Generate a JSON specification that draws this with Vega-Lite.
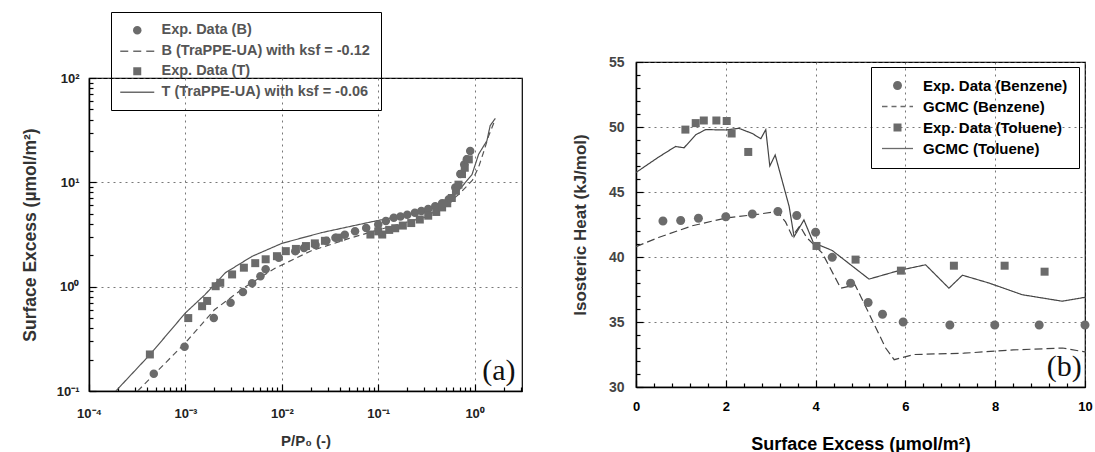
{
  "$schema": "https://vega.github.io/schema/vega-lite/v6.json",
  "padding": {"left": 20, "top": 11, "right": 0, "bottom": 0},
  "config": {
    "font": "Liberation Sans",
    "view": {"stroke": "#000", "strokeWidth": 1.2},
    "axis": {
      "labelFont": "Liberation Sans", "labelFontWeight": "bold", "labelFontSize": 13, "labelColor": "#222",
      "titleFont": "Liberation Sans", "titleFontWeight": "bold", "titleFontSize": 15, "titleColor": "#333",
      "domainColor": "#000", "domainWidth": 1.5, "tickColor": "#000", "tickWidth": 1.2,
      "gridColor": "#555", "gridDash": [2, 4], "gridWidth": 0.8, "labelOverlap": false, "labelFlush": false
    }
  },
  "resolve": {
    "scale": {"x": "independent", "y": "independent", "shape": "independent", "strokeDash": "independent"},
    "legend": {"shape": "independent", "strokeDash": "independent"}
  },
  "datasets": {
    "leftPts": [
      {"x": 0.00047, "y": 0.146, "series": "Exp. Data (B)"},
      {"x": 0.00098, "y": 0.265, "series": "Exp. Data (B)"},
      {"x": 0.00197, "y": 0.5, "series": "Exp. Data (B)"},
      {"x": 0.00294, "y": 0.7, "series": "Exp. Data (B)"},
      {"x": 0.00395, "y": 0.89, "series": "Exp. Data (B)"},
      {"x": 0.00492, "y": 1.08, "series": "Exp. Data (B)"},
      {"x": 0.006, "y": 1.26, "series": "Exp. Data (B)"},
      {"x": 0.0068, "y": 1.47, "series": "Exp. Data (B)"},
      {"x": 0.0093, "y": 1.89, "series": "Exp. Data (B)"},
      {"x": 0.0138, "y": 2.19, "series": "Exp. Data (B)"},
      {"x": 0.017, "y": 2.35, "series": "Exp. Data (B)"},
      {"x": 0.0224, "y": 2.51, "series": "Exp. Data (B)"},
      {"x": 0.029, "y": 2.75, "series": "Exp. Data (B)"},
      {"x": 0.036, "y": 2.95, "series": "Exp. Data (B)"},
      {"x": 0.045, "y": 3.15, "series": "Exp. Data (B)"},
      {"x": 0.0575, "y": 3.39, "series": "Exp. Data (B)"},
      {"x": 0.075, "y": 3.65, "series": "Exp. Data (B)"},
      {"x": 0.1, "y": 3.95, "series": "Exp. Data (B)"},
      {"x": 0.12, "y": 4.25, "series": "Exp. Data (B)"},
      {"x": 0.145, "y": 4.57, "series": "Exp. Data (B)"},
      {"x": 0.17, "y": 4.7, "series": "Exp. Data (B)"},
      {"x": 0.2, "y": 4.9, "series": "Exp. Data (B)"},
      {"x": 0.24, "y": 5.1, "series": "Exp. Data (B)"},
      {"x": 0.28, "y": 5.3, "series": "Exp. Data (B)"},
      {"x": 0.33, "y": 5.55, "series": "Exp. Data (B)"},
      {"x": 0.39, "y": 5.9, "series": "Exp. Data (B)"},
      {"x": 0.46, "y": 6.3, "series": "Exp. Data (B)"},
      {"x": 0.54, "y": 6.9, "series": "Exp. Data (B)"},
      {"x": 0.63, "y": 8.9, "series": "Exp. Data (B)"},
      {"x": 0.71, "y": 12.0, "series": "Exp. Data (B)"},
      {"x": 0.78, "y": 14.8, "series": "Exp. Data (B)"},
      {"x": 0.83, "y": 16.6, "series": "Exp. Data (B)"},
      {"x": 0.9, "y": 20, "series": "Exp. Data (B)"},
      {"x": 0.000428, "y": 0.224, "series": "Exp. Data (T)"},
      {"x": 0.00107, "y": 0.5, "series": "Exp. Data (T)"},
      {"x": 0.00149, "y": 0.65, "series": "Exp. Data (T)"},
      {"x": 0.00168, "y": 0.73, "series": "Exp. Data (T)"},
      {"x": 0.00206, "y": 1.01, "series": "Exp. Data (T)"},
      {"x": 0.0023, "y": 1.09, "series": "Exp. Data (T)"},
      {"x": 0.00305, "y": 1.31, "series": "Exp. Data (T)"},
      {"x": 0.00404, "y": 1.52, "series": "Exp. Data (T)"},
      {"x": 0.0053, "y": 1.68, "series": "Exp. Data (T)"},
      {"x": 0.0068, "y": 1.83, "series": "Exp. Data (T)"},
      {"x": 0.0089, "y": 1.96, "series": "Exp. Data (T)"},
      {"x": 0.011, "y": 2.19, "series": "Exp. Data (T)"},
      {"x": 0.014, "y": 2.3, "series": "Exp. Data (T)"},
      {"x": 0.0178, "y": 2.45, "series": "Exp. Data (T)"},
      {"x": 0.022, "y": 2.6, "series": "Exp. Data (T)"},
      {"x": 0.028, "y": 2.75, "series": "Exp. Data (T)"},
      {"x": 0.039, "y": 2.95, "series": "Exp. Data (T)"},
      {"x": 0.083, "y": 3.16, "series": "Exp. Data (T)"},
      {"x": 0.11, "y": 3.16, "series": "Exp. Data (T)"},
      {"x": 0.1, "y": 3.39, "series": "Exp. Data (T)"},
      {"x": 0.13, "y": 3.5, "series": "Exp. Data (T)"},
      {"x": 0.15, "y": 3.63, "series": "Exp. Data (T)"},
      {"x": 0.18, "y": 3.85, "series": "Exp. Data (T)"},
      {"x": 0.22, "y": 4.07, "series": "Exp. Data (T)"},
      {"x": 0.27, "y": 4.4, "series": "Exp. Data (T)"},
      {"x": 0.33, "y": 4.79, "series": "Exp. Data (T)"},
      {"x": 0.4, "y": 5.2, "series": "Exp. Data (T)"},
      {"x": 0.46, "y": 5.75, "series": "Exp. Data (T)"},
      {"x": 0.52, "y": 6.3, "series": "Exp. Data (T)"},
      {"x": 0.58, "y": 7.08, "series": "Exp. Data (T)"},
      {"x": 0.64, "y": 8.3, "series": "Exp. Data (T)"},
      {"x": 0.68, "y": 9.5, "series": "Exp. Data (T)"},
      {"x": 0.74, "y": 12, "series": "Exp. Data (T)"},
      {"x": 0.79, "y": 13.8, "series": "Exp. Data (T)"},
      {"x": 0.87, "y": 16.6, "series": "Exp. Data (T)"}
    ],
    "leftLines": [
      {"x": 0.00032, "y": 0.1, "series": "B (TraPPE-UA) with ksf = -0.12"},
      {"x": 0.001, "y": 0.29, "series": "B (TraPPE-UA) with ksf = -0.12"},
      {"x": 0.002, "y": 0.6, "series": "B (TraPPE-UA) with ksf = -0.12"},
      {"x": 0.0042, "y": 1.0, "series": "B (TraPPE-UA) with ksf = -0.12"},
      {"x": 0.0085, "y": 1.5, "series": "B (TraPPE-UA) with ksf = -0.12"},
      {"x": 0.02, "y": 2.2, "series": "B (TraPPE-UA) with ksf = -0.12"},
      {"x": 0.05, "y": 2.9, "series": "B (TraPPE-UA) with ksf = -0.12"},
      {"x": 0.1, "y": 3.5, "series": "B (TraPPE-UA) with ksf = -0.12"},
      {"x": 0.3, "y": 4.6, "series": "B (TraPPE-UA) with ksf = -0.12"},
      {"x": 0.5, "y": 6.0, "series": "B (TraPPE-UA) with ksf = -0.12"},
      {"x": 0.7, "y": 7.8, "series": "B (TraPPE-UA) with ksf = -0.12"},
      {"x": 0.95, "y": 10.5, "series": "B (TraPPE-UA) with ksf = -0.12"},
      {"x": 1.1, "y": 14, "series": "B (TraPPE-UA) with ksf = -0.12"},
      {"x": 1.25, "y": 20, "series": "B (TraPPE-UA) with ksf = -0.12"},
      {"x": 1.4, "y": 28, "series": "B (TraPPE-UA) with ksf = -0.12"},
      {"x": 1.58, "y": 37, "series": "B (TraPPE-UA) with ksf = -0.12"},
      {"x": 0.00019, "y": 0.1, "series": "T (TraPPE-UA) with ksf = -0.06"},
      {"x": 0.00043, "y": 0.224, "series": "T (TraPPE-UA) with ksf = -0.06"},
      {"x": 0.001, "y": 0.56, "series": "T (TraPPE-UA) with ksf = -0.06"},
      {"x": 0.0016, "y": 0.84, "series": "T (TraPPE-UA) with ksf = -0.06"},
      {"x": 0.0026, "y": 1.36, "series": "T (TraPPE-UA) with ksf = -0.06"},
      {"x": 0.0049, "y": 1.95, "series": "T (TraPPE-UA) with ksf = -0.06"},
      {"x": 0.01, "y": 2.6, "series": "T (TraPPE-UA) with ksf = -0.06"},
      {"x": 0.026, "y": 3.3, "series": "T (TraPPE-UA) with ksf = -0.06"},
      {"x": 0.087, "y": 4.2, "series": "T (TraPPE-UA) with ksf = -0.06"},
      {"x": 0.2, "y": 4.9, "series": "T (TraPPE-UA) with ksf = -0.06"},
      {"x": 0.4, "y": 5.9, "series": "T (TraPPE-UA) with ksf = -0.06"},
      {"x": 0.55, "y": 7.0, "series": "T (TraPPE-UA) with ksf = -0.06"},
      {"x": 0.68, "y": 8.3, "series": "T (TraPPE-UA) with ksf = -0.06"},
      {"x": 0.94, "y": 11.9, "series": "T (TraPPE-UA) with ksf = -0.06"},
      {"x": 1.1, "y": 18.6, "series": "T (TraPPE-UA) with ksf = -0.06"},
      {"x": 1.34, "y": 25, "series": "T (TraPPE-UA) with ksf = -0.06"},
      {"x": 1.45, "y": 35, "series": "T (TraPPE-UA) with ksf = -0.06"},
      {"x": 1.64, "y": 41, "series": "T (TraPPE-UA) with ksf = -0.06"}
    ],
    "rightPts": [
      {"x": 0.6, "y": 42.77, "series": "Exp. Data (Benzene)"},
      {"x": 0.995, "y": 42.8, "series": "Exp. Data (Benzene)"},
      {"x": 1.39, "y": 42.98, "series": "Exp. Data (Benzene)"},
      {"x": 2.0, "y": 43.1, "series": "Exp. Data (Benzene)"},
      {"x": 2.59, "y": 43.3, "series": "Exp. Data (Benzene)"},
      {"x": 3.16, "y": 43.5, "series": "Exp. Data (Benzene)"},
      {"x": 3.58, "y": 43.2, "series": "Exp. Data (Benzene)"},
      {"x": 4.0, "y": 41.9, "series": "Exp. Data (Benzene)"},
      {"x": 4.37, "y": 39.98, "series": "Exp. Data (Benzene)"},
      {"x": 4.78, "y": 37.98, "series": "Exp. Data (Benzene)"},
      {"x": 5.17, "y": 36.5, "series": "Exp. Data (Benzene)"},
      {"x": 5.49, "y": 35.6, "series": "Exp. Data (Benzene)"},
      {"x": 5.95, "y": 35.0, "series": "Exp. Data (Benzene)"},
      {"x": 6.99, "y": 34.77, "series": "Exp. Data (Benzene)"},
      {"x": 7.99, "y": 34.77, "series": "Exp. Data (Benzene)"},
      {"x": 8.98, "y": 34.77, "series": "Exp. Data (Benzene)"},
      {"x": 10.0, "y": 34.77, "series": "Exp. Data (Benzene)"},
      {"x": 1.1, "y": 49.8, "series": "Exp. Data (Toluene)"},
      {"x": 1.33, "y": 50.3, "series": "Exp. Data (Toluene)"},
      {"x": 1.51, "y": 50.5, "series": "Exp. Data (Toluene)"},
      {"x": 1.79, "y": 50.5, "series": "Exp. Data (Toluene)"},
      {"x": 2.02, "y": 50.46, "series": "Exp. Data (Toluene)"},
      {"x": 2.13, "y": 49.5, "series": "Exp. Data (Toluene)"},
      {"x": 2.5, "y": 48.08, "series": "Exp. Data (Toluene)"},
      {"x": 4.02, "y": 40.85, "series": "Exp. Data (Toluene)"},
      {"x": 4.89, "y": 39.8, "series": "Exp. Data (Toluene)"},
      {"x": 5.9, "y": 38.95, "series": "Exp. Data (Toluene)"},
      {"x": 7.08, "y": 39.33, "series": "Exp. Data (Toluene)"},
      {"x": 8.21, "y": 39.33, "series": "Exp. Data (Toluene)"},
      {"x": 9.1, "y": 38.87, "series": "Exp. Data (Toluene)"}
    ],
    "rightLines": [
      {"x": 0, "y": 40.8, "series": "GCMC (Benzene)"},
      {"x": 0.5, "y": 41.5, "series": "GCMC (Benzene)"},
      {"x": 1.25, "y": 42.4, "series": "GCMC (Benzene)"},
      {"x": 2.0, "y": 43.0, "series": "GCMC (Benzene)"},
      {"x": 2.74, "y": 43.3, "series": "GCMC (Benzene)"},
      {"x": 3.15, "y": 43.5, "series": "GCMC (Benzene)"},
      {"x": 3.33, "y": 42.7, "series": "GCMC (Benzene)"},
      {"x": 3.48, "y": 41.6, "series": "GCMC (Benzene)"},
      {"x": 3.65, "y": 42.4, "series": "GCMC (Benzene)"},
      {"x": 3.8, "y": 41.5, "series": "GCMC (Benzene)"},
      {"x": 4.15, "y": 40.3, "series": "GCMC (Benzene)"},
      {"x": 4.56, "y": 37.6, "series": "GCMC (Benzene)"},
      {"x": 4.88, "y": 37.85, "series": "GCMC (Benzene)"},
      {"x": 5.0, "y": 37.0, "series": "GCMC (Benzene)"},
      {"x": 5.56, "y": 33.0, "series": "GCMC (Benzene)"},
      {"x": 5.75, "y": 32.1, "series": "GCMC (Benzene)"},
      {"x": 6.2, "y": 32.5, "series": "GCMC (Benzene)"},
      {"x": 7.3, "y": 32.6, "series": "GCMC (Benzene)"},
      {"x": 8.4, "y": 32.85, "series": "GCMC (Benzene)"},
      {"x": 9.5, "y": 33.0, "series": "GCMC (Benzene)"},
      {"x": 10, "y": 32.7, "series": "GCMC (Benzene)"},
      {"x": 0, "y": 46.5, "series": "GCMC (Toluene)"},
      {"x": 0.51, "y": 47.7, "series": "GCMC (Toluene)"},
      {"x": 0.88, "y": 48.5, "series": "GCMC (Toluene)"},
      {"x": 1.07, "y": 48.4, "series": "GCMC (Toluene)"},
      {"x": 1.33, "y": 49.4, "series": "GCMC (Toluene)"},
      {"x": 1.55, "y": 49.8, "series": "GCMC (Toluene)"},
      {"x": 2.0, "y": 49.77, "series": "GCMC (Toluene)"},
      {"x": 2.29, "y": 49.9, "series": "GCMC (Toluene)"},
      {"x": 2.59, "y": 49.5, "series": "GCMC (Toluene)"},
      {"x": 2.78, "y": 49.1, "series": "GCMC (Toluene)"},
      {"x": 2.89, "y": 49.8, "series": "GCMC (Toluene)"},
      {"x": 2.98, "y": 47.0, "series": "GCMC (Toluene)"},
      {"x": 3.1, "y": 47.85, "series": "GCMC (Toluene)"},
      {"x": 3.41, "y": 43.9, "series": "GCMC (Toluene)"},
      {"x": 3.52, "y": 41.56, "series": "GCMC (Toluene)"},
      {"x": 3.74, "y": 42.85, "series": "GCMC (Toluene)"},
      {"x": 3.95, "y": 41.1, "series": "GCMC (Toluene)"},
      {"x": 4.37, "y": 40.5, "series": "GCMC (Toluene)"},
      {"x": 5.19, "y": 38.3, "series": "GCMC (Toluene)"},
      {"x": 5.9, "y": 39.0, "series": "GCMC (Toluene)"},
      {"x": 6.45, "y": 39.4, "series": "GCMC (Toluene)"},
      {"x": 6.97, "y": 37.6, "series": "GCMC (Toluene)"},
      {"x": 7.27, "y": 38.6, "series": "GCMC (Toluene)"},
      {"x": 7.86, "y": 38.0, "series": "GCMC (Toluene)"},
      {"x": 8.6, "y": 37.1, "series": "GCMC (Toluene)"},
      {"x": 9.49, "y": 36.6, "series": "GCMC (Toluene)"},
      {"x": 10, "y": 36.9, "series": "GCMC (Toluene)"}
    ]
  },
  "spacing": 47,
  "hconcat": [
    {
      "spacing": 0,
      "vconcat": [
        {
          "data": {"values": []},
          "mark": {"type": "point", "opacity": 0},
          "width": 1, "height": 18,
          "view": {"stroke": "transparent", "fill": "transparent"}
        },
        {
          "width": 433, "height": 313,
          "encoding": {
            "x": {
              "field": "x", "type": "quantitative",
              "scale": {"type": "log", "domain": [0.0001, 3.1], "nice": false},
              "axis": {
                "title": "P/P₀ (-)", "titlePadding": 10, "labelPadding": 23,
                "tickSize": {"condition": {"test": "abs(log(datum.value)/LN10 - round(log(datum.value)/LN10)) < 0.01", "value": -7}, "value": -4},
                "values": [0.0001,0.0002,0.0003,0.0004,0.0005,0.0006,0.0007,0.0008,0.0009,0.001,0.002,0.003,0.004,0.005,0.006,0.007,0.008,0.009,0.01,0.02,0.03,0.04,0.05,0.06,0.07,0.08,0.09,0.1,0.2,0.3,0.4,0.5,0.6,0.7,0.8,0.9,1,2,3],
                "labelExpr": "abs(log(datum.value)/LN10 - round(log(datum.value)/LN10)) < 0.01 ? '10' + ['⁻⁴','⁻³','⁻²','⁻¹','⁰','¹','²'][round(log(datum.value)/LN10)+4] : ''",
                "grid": true,
                "gridOpacity": {"condition": {"test": "abs(log(datum.value)/LN10 - round(log(datum.value)/LN10)) < 0.01", "value": 1}, "value": 0}
              }
            },
            "y": {
              "field": "y", "type": "quantitative",
              "scale": {"type": "log", "domain": [0.1, 100], "nice": false},
              "axis": {
                "title": "Surface Excess (µmol/m²)", "titleFontSize": 17.5, "titlePadding": 17, "labelPadding": 17,
                "tickSize": {"condition": {"test": "abs(log(datum.value)/LN10 - round(log(datum.value)/LN10)) < 0.01", "value": -7}, "value": -4},
                "values": [0.1,0.2,0.3,0.4,0.5,0.6,0.7,0.8,0.9,1,2,3,4,5,6,7,8,9,10,20,30,40,50,60,70,80,90,100],
                "labelExpr": "abs(log(datum.value)/LN10 - round(log(datum.value)/LN10)) < 0.01 ? '10' + ['⁻⁴','⁻³','⁻²','⁻¹','⁰','¹','²'][round(log(datum.value)/LN10)+4] : ''",
                "grid": true,
                "gridOpacity": {"condition": {"test": "abs(log(datum.value)/LN10 - round(log(datum.value)/LN10)) < 0.01", "value": 1}, "value": 0}
              }
            }
          },
          "layer": [
            {
              "data": {"name": "leftLines"},
              "mark": {"type": "line", "color": "#555", "strokeWidth": 1.2, "clip": true},
              "encoding": {
                "strokeDash": {
                  "field": "series", "type": "nominal",
                  "scale": {"domain": ["B (TraPPE-UA) with ksf = -0.12", "T (TraPPE-UA) with ksf = -0.06"], "range": [[6, 4], [1, 0]]},
                  "legend": null
                }
              }
            },
            {
              "data": {"name": "leftPts"},
              "mark": {"type": "point", "filled": true, "opacity": 1, "size": 100, "color": "#6b6b6b"},
              "encoding": {
                "shape": {
                  "field": "series", "type": "nominal",
                  "scale": {
                    "domain": ["Exp. Data (B)", "B (TraPPE-UA) with ksf = -0.12", "Exp. Data (T)", "T (TraPPE-UA) with ksf = -0.06"],
                    "range": ["M0.85,0A0.85,0.85,0,1,1,-0.85,0A0.85,0.85,0,1,1,0.85,0Z", "M-3.4,-0.13H-1.8V0.13H-3.4ZM-0.8,-0.13H0.8V0.13H-0.8ZM1.8,-0.13H3.4V0.13H1.8Z", "M-0.8,-0.8H0.8V0.8H-0.8Z", "M-3.4,-0.13H3.4V0.13H-3.4Z"]
                  },
                  "legend": {
                    "orient": "none", "legendX": 22, "legendY": -40, "title": null,
                    "padding": 11, "rowPadding": 5, "strokeColor": "#000",
                    "labelFont": "Liberation Sans", "labelFontSize": 14.5, "labelFontWeight": "bold", "labelColor": "#555", "labelLimit": 400,
                    "symbolSize": 100, "symbolOffset": 8, "labelOffset": 17,
                    "symbolFillColor": "#6b6b6b"
                  }
                }
              }
            },
            {
              "data": {"values": [{"x": 2.66, "y": 0.155, "label": "(a)"}]},
              "mark": {"type": "text", "font": "Liberation Serif", "fontSize": 30, "align": "right", "baseline": "middle", "color": "#111"},
              "encoding": {"text": {"field": "label", "type": "nominal"}}
            }
          ]
        }
      ]
    },
    {
      "spacing": 0,
      "vconcat": [
        {
          "data": {"values": []},
          "mark": {"type": "point", "opacity": 0},
          "width": 1, "height": 1,
          "view": {"stroke": "transparent", "fill": "transparent"}
        },
        {
          "width": 449, "height": 325,
          "encoding": {
            "x": {
              "field": "x", "type": "quantitative",
              "scale": {"domain": [0, 10], "nice": false},
              "axis": {
                "title": "Surface Excess (µmol/m²)", "titleFontSize": 18, "titleColor": "#000", "titlePadding": 19, "labelPadding": 20,
                "tickSize": {"condition": {"test": "abs(datum.value/2 - round(datum.value/2)) < 0.01", "value": -7}, "value": -4},
                "labelFontSize": 13, "labelColor": "#000",
                "values": [0,0.4,0.8,1.2,1.6,2,2.4,2.8,3.2,3.6,4,4.4,4.8,5.2,5.6,6,6.4,6.8,7.2,7.6,8,8.4,8.8,9.2,9.6,10],
                "labelExpr": "abs(datum.value/2 - round(datum.value/2)) < 0.01 ? format(datum.value, 'd') : ''",
                "grid": true,
                "gridOpacity": {"condition": {"test": "abs(datum.value/2 - round(datum.value/2)) < 0.01", "value": 1}, "value": 0}
              }
            },
            "y": {
              "field": "y", "type": "quantitative",
              "scale": {"domain": [30, 55], "nice": false},
              "axis": {
                "title": "Isosteric Heat (kJ/mol)", "titleFontSize": 17, "titlePadding": 19, "labelPadding": 19, "labelColor": "#444", "labelFontSize": 14,
                "tickSize": {"condition": {"test": "datum.value % 5 == 0", "value": -7}, "value": -4},
                "values": [30,31,32,33,34,35,36,37,38,39,40,41,42,43,44,45,46,47,48,49,50,51,52,53,54,55],
                "labelExpr": "datum.value % 5 == 0 ? format(datum.value, 'd') : ''",
                "grid": true,
                "gridOpacity": {"condition": {"test": "datum.value % 5 == 0", "value": 1}, "value": 0}
              }
            }
          },
          "layer": [
            {
              "data": {"name": "rightLines"},
              "mark": {"type": "line", "color": "#444", "strokeWidth": 1.2, "clip": true},
              "encoding": {
                "strokeDash": {
                  "field": "series", "type": "nominal",
                  "scale": {"domain": ["GCMC (Benzene)", "GCMC (Toluene)"], "range": [[8, 4], [1, 0]]},
                  "legend": null
                }
              }
            },
            {
              "data": {"name": "rightPts"},
              "mark": {"type": "point", "filled": true, "opacity": 1, "size": 100, "color": "#6b6b6b"},
              "encoding": {
                "shape": {
                  "field": "series", "type": "nominal",
                  "scale": {
                    "domain": ["Exp. Data (Benzene)", "GCMC (Benzene)", "Exp. Data (Toluene)", "GCMC (Toluene)"],
                    "range": ["M0.9,0A0.9,0.9,0,1,1,-0.9,0A0.9,0.9,0,1,1,0.9,0Z", "M-3.1,-0.13H-2V0.13H-3.1ZM-1.2,-0.13H-0.2V0.13H-1.2ZM0.6,-0.13H1.6V0.13H0.6ZM2.4,-0.13H3.1V0.13H2.4Z", "M-0.8,-0.8H0.8V0.8H-0.8Z", "M-3.1,-0.13H3.1V0.13H-3.1Z"]
                  },
                  "legend": {
                    "orient": "none", "legendX": 235, "legendY": 15, "title": null,
                    "padding": 11, "rowPadding": 5, "strokeColor": "#000",
                    "labelFont": "Liberation Sans", "labelFontSize": 15, "labelFontWeight": "bold", "labelColor": "#000", "labelLimit": 400,
                    "symbolSize": 100, "symbolOffset": 8, "labelOffset": 18,
                    "symbolFillColor": "#6b6b6b"
                  }
                }
              }
            },
            {
              "data": {"values": [{"x": 9.93, "y": 31.54, "label": "(b)"}]},
              "mark": {"type": "text", "font": "Liberation Serif", "fontSize": 30, "align": "right", "baseline": "middle", "color": "#111"},
              "encoding": {"text": {"field": "label", "type": "nominal"}}
            }
          ]
        }
      ]
    }
  ]
}
